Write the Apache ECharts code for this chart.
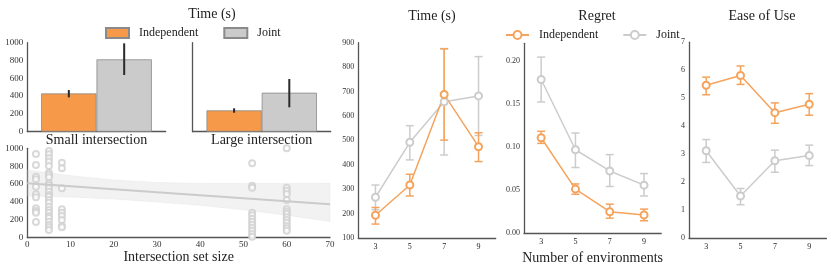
<!DOCTYPE html>
<html><head><meta charset="utf-8">
<script src="https://cdn.jsdelivr.net/npm/echarts@6/dist/echarts.min.js"></script>
<style>html,body{margin:0;padding:0;background:#fff}#c{width:831px;height:270px}</style>
</head><body><div id="c"></div>
<script>
// ---------- data ----------
const envCategories = ['3', '5', '7', '9'];
const barGroups = ['Small intersection', 'Large intersection'];
const barIndep = [430, 240];
const barIndepErr = [[386, 468], [213, 263]];
const barJoint = [813, 438];
const barJointErr = [[637, 993], [274, 592]];

const scatterSizes = [2, 5, 8, 52, 60];
const scatterTimes = [
  [936, 813, 682, 653, 570, 485, 452, 329, 299, 280, 176],
  [970, 933, 888, 850, 802, 727, 705, 676, 608, 586, 553, 515, 478, 459, 422, 392, 347, 310, 280, 243, 220, 179, 142, 116, 86],
  [839, 776, 553, 318, 280, 243, 198, 131, 116],
  [832, 582, 559, 280, 251, 213, 179, 146, 112, 78, 40, 11],
  [1000, 559, 526, 489, 422, 318, 291, 265, 228, 198, 168, 131, 105, 78]
];
const fitX = [0, 70];
const fitY = [608, 375];
const bandX = [0, 10, 20, 30, 40, 50, 60, 70];
const bandUpper = [757, 694, 645, 618, 607, 605, 607, 608];
const bandLower = [466, 455, 432, 400, 362, 312, 252, 182];

const timeIndep = [193, 317, 688, 474];
const timeIndepErr = [[157, 225], [272, 361], [501, 875], [413, 531]];
const timeJoint = [267, 492, 658, 682];
const timeJointErr = [[216, 317], [420, 560], [440, 876], [520, 843]];

const regretIndep = [0.1105, 0.051, 0.0248, 0.021];
const regretIndepErr = [[0.104, 0.118], [0.045, 0.057], [0.0173, 0.0335], [0.0143, 0.0278]];
const regretJoint = [0.178, 0.0966, 0.072, 0.0556];
const regretJointErr = [[0.152, 0.204], [0.076, 0.116], [0.054, 0.091], [0.043, 0.069]];

const easeIndep = [5.46, 5.81, 4.48, 4.78];
const easeIndepErr = [[5.12, 5.75], [5.49, 6.15], [4.10, 4.83], [4.39, 5.16]];
const easeJoint = [3.12, 1.50, 2.76, 2.95];
const easeJointErr = [[2.70, 3.52], [1.19, 1.77], [2.35, 3.14], [2.59, 3.32]];

// ---------- styles ----------
const FONT = "'Liberation Serif', 'DejaVu Serif', serif";
const ORANGE_BAR = '#f69a4a';
const GRAY_BAR = '#cbcbcb';
const ORANGE = '#f5a35c';
const GRAY = '#cccccc';
const AXIS = '#555';

function errSeries(xi, yi, data, color, lw, cap, offsetFrac) {
  return {
    type: 'custom', xAxisIndex: xi, yAxisIndex: yi, silent: true, z: 5,
    data: data, encode: { x: 0, y: [1, 2] },
    renderItem: function (params, api) {
      const i = api.value(0);
      const lo = api.coord([i, api.value(1)]);
      const hi = api.coord([i, api.value(2)]);
      const off = (offsetFrac || 0) * api.size([1, 0])[0];
      const x = lo[0] + off;
      const st = { stroke: color, lineWidth: lw };
      const ch = [{ type: 'line', shape: { x1: x, y1: lo[1], x2: x, y2: hi[1] }, style: st }];
      if (cap) {
        ch.push({ type: 'line', shape: { x1: x - cap / 2, y1: lo[1], x2: x + cap / 2, y2: lo[1] }, style: st });
        ch.push({ type: 'line', shape: { x1: x - cap / 2, y1: hi[1], x2: x + cap / 2, y2: hi[1] }, style: st });
      }
      return { type: 'group', children: ch };
    }
  };
}
function idxErr(errs) { return errs.map((e, i) => [i, e[0], e[1]]); }

function axisLine() { return { show: true, lineStyle: { color: AXIS, width: 1.3 } }; }

function catX(gi, data, labelSize, margin, name) {
  return {
    type: 'category', gridIndex: gi, data: data, boundaryGap: true,
    axisLine: axisLine(), axisTick: { show: false },
    axisLabel: { fontFamily: FONT, fontSize: labelSize, color: '#222', margin: margin },
    name: name || '', nameLocation: 'middle', nameGap: 12,
    nameTextStyle: { fontFamily: FONT, fontSize: 14, color: '#222' }
  };
}
function valY(gi, min, max, interval, showLabels, fontSize, decimals, hideMax) {
  return {
    type: 'value', gridIndex: gi, min: min, max: max, interval: interval,
    axisLine: axisLine(), axisTick: { show: false }, splitLine: { show: false },
    axisLabel: { show: showLabels, fontFamily: FONT, fontSize: fontSize, color: '#333', margin: 4,
      showMaxLabel: hideMax ? false : null,
      formatter: v => Number(v).toFixed(decimals) }
  };
}

const scatterData = [];
scatterSizes.forEach((s, k) => scatterTimes[k].forEach(v => scatterData.push([s, v])));
const bandData = bandX.map((x, i) => [x, bandLower[i], bandUpper[i]]);

function lineSeries(name, xi, yi, data, color) {
  return {
    type: 'line', name: name, xAxisIndex: xi, yAxisIndex: yi, data: data,
    symbol: 'emptyCircle', symbolSize: 7, z: 6,
    lineStyle: { color: color, width: 1.5 },
    itemStyle: { color: color, borderColor: color, borderWidth: 1.6 }
  };
}

const option = {
  animation: false,
  backgroundColor: '#fff',
  textStyle: { fontFamily: FONT },
  title: [
    { text: 'Time (s)', left: 207, top: 2, textAlign: 'center' },
    { text: 'Time (s)', left: 427, top: 4, textAlign: 'center' },
    { text: 'Regret', left: 592, top: 4, textAlign: 'center' },
    { text: 'Ease of Use', left: 757, top: 4, textAlign: 'center' }
  ].map(t => Object.assign(t, { textStyle: { fontFamily: FONT, fontSize: 14, fontWeight: 'normal', color: '#222' } })),
  legend: [
    {
      left: 100, top: 22, itemWidth: 23, itemHeight: 10, itemGap: 25, icon: 'rect',
      data: ['Independent', 'Joint'],
      textStyle: { fontFamily: FONT, fontSize: 12, color: '#222', padding: [0, 0, 0, 5] }
    },
    {
      left: 500, top: 24, itemWidth: 23, itemHeight: 10, itemGap: 24,
      data: ['Independent-line', 'Joint-line'],
      formatter: n => n.replace('-line', ''),
      textStyle: { fontFamily: FONT, fontSize: 12, color: '#222', padding: [0, 0, 0, 5] }
    }
  ],
  grid: [
    { left: 27.3, top: 42.7, width: 138.4, height: 89 },
    { left: 192.7, top: 42.7, width: 138, height: 89 },
    { left: 27.3, top: 148.3, width: 302.7, height: 89.4 },
    { left: 358.3, top: 42.7, width: 137.4, height: 195.3 },
    { left: 524, top: 43.3, width: 137.2, height: 194.7 },
    { left: 689, top: 42.2, width: 137.4, height: 195.8 }
  ],
  xAxis: [
    catX(0, [barGroups[0]], 14, 2),
    catX(1, [barGroups[1]], 14, 2),
    {
      type: 'value', gridIndex: 2, min: 0, max: 70, interval: 10,
      axisLine: axisLine(), axisTick: { show: false }, splitLine: { show: false },
      axisLabel: { fontFamily: FONT, fontSize: 9, color: '#333', margin: 2 },
      name: 'Intersection set size', nameLocation: 'middle', nameGap: 13,
      nameTextStyle: { fontFamily: FONT, fontSize: 14, color: '#222' }
    },
    catX(3, envCategories, 8, 5),
    catX(4, envCategories, 8, 5, 'Number of environments'),
    catX(5, envCategories, 8, 5)
  ],
  yAxis: [
    valY(0, 0, 1000, 200, true, 9, 0),
    valY(1, 0, 1000, 200, false, 9, 0),
    valY(2, 0, 1000, 200, true, 9, 0),
    valY(3, 100, 900, 100, true, 8, 0),
    valY(4, 0, 0.22, 0.05, true, 8, 2, true),
    valY(5, 0, 7, 1, true, 8, 0)
  ],
  series: [
    // bars
    { type: 'bar', name: 'Independent', xAxisIndex: 0, yAxisIndex: 0, data: [barIndep[0]], barGap: 0, barCategoryGap: '20%',
      itemStyle: { color: ORANGE_BAR, borderColor: '#8a8a8a', borderWidth: 0.8 } },
    { type: 'bar', name: 'Joint', xAxisIndex: 0, yAxisIndex: 0, data: [barJoint[0]], barGap: 0, barCategoryGap: '20%',
      itemStyle: { color: GRAY_BAR, borderColor: '#8a8a8a', borderWidth: 0.8 } },
    { type: 'bar', name: 'Independent', xAxisIndex: 1, yAxisIndex: 1, data: [barIndep[1]], barGap: 0, barCategoryGap: '20%',
      itemStyle: { color: ORANGE_BAR, borderColor: '#8a8a8a', borderWidth: 0.8 } },
    { type: 'bar', name: 'Joint', xAxisIndex: 1, yAxisIndex: 1, data: [barJoint[1]], barGap: 0, barCategoryGap: '20%',
      itemStyle: { color: GRAY_BAR, borderColor: '#8a8a8a', borderWidth: 0.8 } },
    errSeries(0, 0, [[0, barIndepErr[0][0], barIndepErr[0][1]]], '#2a2a2a', 2, 0, -0.2),
    errSeries(0, 0, [[0, barJointErr[0][0], barJointErr[0][1]]], '#2a2a2a', 2, 0, 0.2),
    errSeries(1, 1, [[0, barIndepErr[1][0], barIndepErr[1][1]]], '#2a2a2a', 2, 0, -0.2),
    errSeries(1, 1, [[0, barJointErr[1][0], barJointErr[1][1]]], '#2a2a2a', 2, 0, 0.2),
    // scatter panel: confidence band
    {
      type: 'custom', xAxisIndex: 2, yAxisIndex: 2, data: bandData, silent: true, z: 1,
      encode: { x: 0, y: [1, 2] },
      renderItem: function (params, api) {
        if (params.dataIndex !== 0) return null;
        const top = bandData.map(d => api.coord([d[0], d[2]]));
        const bot = bandData.map(d => api.coord([d[0], d[1]])).reverse();
        return { type: 'polygon', shape: { points: top.concat(bot) },
          style: { fill: 'rgba(205,205,205,0.25)', stroke: 'rgba(205,205,205,0.35)', lineWidth: 0.6 } };
      }
    },
    { type: 'scatter', xAxisIndex: 2, yAxisIndex: 2, data: scatterData, symbol: 'emptyCircle', symbolSize: 6,
      itemStyle: { color: '#cfcfcf', borderColor: '#cfcfcf', borderWidth: 1 }, z: 2 },
    { type: 'line', xAxisIndex: 2, yAxisIndex: 2, data: fitX.map((x, i) => [x, fitY[i]]), symbol: 'none',
      lineStyle: { color: '#cbcbcb', width: 2 }, z: 3 },
    // time
    errSeries(3, 3, idxErr(timeJointErr), GRAY, 1.5, 8),
    lineSeries('Joint-line', 3, 3, timeJoint, GRAY),
    errSeries(3, 3, idxErr(timeIndepErr), ORANGE, 1.5, 8),
    lineSeries('Independent-line', 3, 3, timeIndep, ORANGE),
    // regret
    errSeries(4, 4, idxErr(regretJointErr), GRAY, 1.5, 8),
    lineSeries('Joint-line', 4, 4, regretJoint, GRAY),
    errSeries(4, 4, idxErr(regretIndepErr), ORANGE, 1.5, 8),
    lineSeries('Independent-line', 4, 4, regretIndep, ORANGE),
    // ease
    errSeries(5, 5, idxErr(easeJointErr), GRAY, 1.5, 8),
    lineSeries('Joint-line', 5, 5, easeJoint, GRAY),
    errSeries(5, 5, idxErr(easeIndepErr), ORANGE, 1.5, 8),
    lineSeries('Independent-line', 5, 5, easeIndep, ORANGE)
  ]
};
const chart = echarts.init(document.getElementById('c'), null, { renderer: 'canvas' });
chart.setOption(option);
</script>
</body></html>
